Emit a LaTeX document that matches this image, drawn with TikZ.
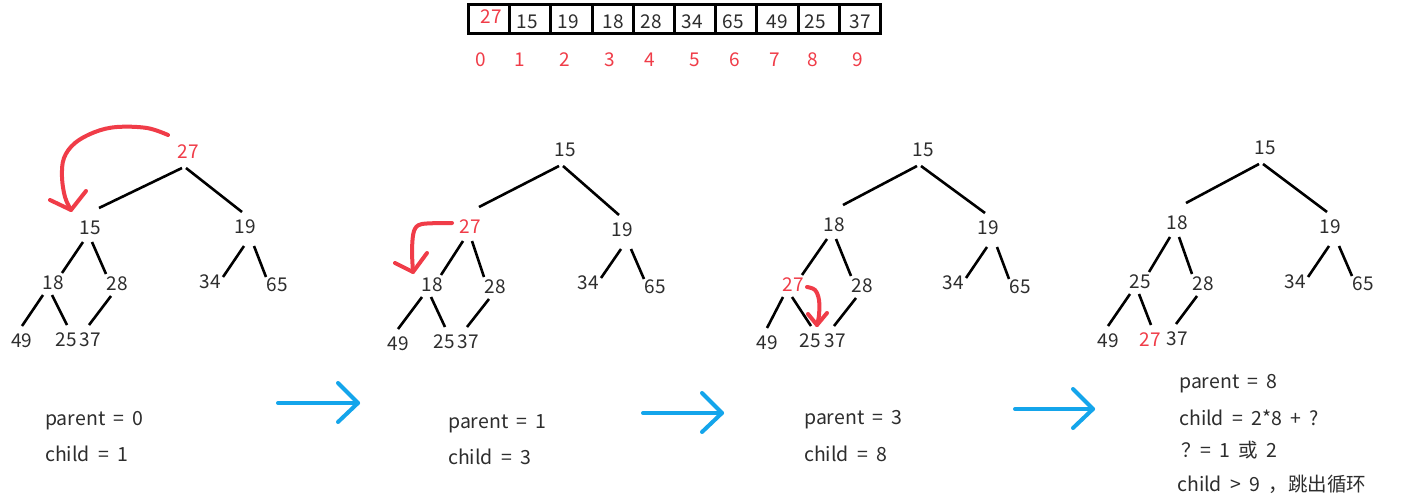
\documentclass[tikz,border=0pt]{standalone}
\usepackage{fontspec}
\setmainfont[WordSpace=1.9]{Noto Sans CJK SC}
\definecolor{txt}{RGB}{45,45,45}
\definecolor{hred}{RGB}{240,60,72}
\definecolor{hblue}{RGB}{20,165,235}
\tikzset{
  num/.style={inner sep=0pt, text=txt, font=\fontsize{19}{21}\selectfont},
  rnum/.style={num, text=hred},
  tedge/.style={draw=black, line width=2.6pt},
  cell/.style={draw=black, line width=3pt, minimum width=41.2pt, minimum height=29pt, inner sep=0pt},
  lbl/.style={inner sep=0pt, anchor=base west, text=txt, font=\fontsize{19.5}{22}\selectfont},
  redpen/.style={draw=hred, line width=4pt, line cap=round, line join=round},
  bluepen/.style={draw=hblue, line width=4pt, line cap=round, line join=round},
}
\newcommand\heapedges[1]{%
  \draw[tedge] ([shift={(-6,16)}]#1n0.center) -- ([shift={(9,-20)}]#1n1.center);
  \draw[tedge] ([shift={(-2,16)}]#1n0.center) -- ([shift={(-3,-15)}]#1n2.center);
  \draw[tedge] ([shift={(-7,14)}]#1n1.center) -- ([shift={(9,-10)}]#1n3.center);
  \draw[tedge] ([shift={(2,14)}]#1n1.center) -- ([shift={(-11,-10)}]#1n4.center);
  \draw[tedge] ([shift={(-1,19)}]#1n2.center) -- ([shift={(13,-5)}]#1n5.center);
  \draw[tedge] ([shift={(9,19)}]#1n2.center) -- ([shift={(-11,-8)}]#1n6.center);
  \draw[tedge] ([shift={(-10,12)}]#1n3.center) -- ([shift={(0,-15)}]#1n7.center);
  \draw[tedge] ([shift={(-1,12)}]#1n3.center) -- ([shift={(1,-15)}]#1n8.center);
  \draw[tedge] ([shift={(-6,12)}]#1n4.center) -- ([shift={(-1,-15)}]#1n9.center);
}
\begin{document}
\begin{tikzpicture}[x=1pt, y=-1pt]
\useasboundingbox (0,0) rectangle (1412,498);
\fill[white] (0,0) rectangle (1412,498);

% ---- array ----
\foreach \i in {0,...,9} {
  \node[cell] (c\i) at ({468.5+20.6+41.2*\i},19) {};
}
\node[rnum] (v0) at (491,17) {27};
\node[num] (v1) at (527,22) {15};
\node[num] (v2) at (568,22) {19};
\node[num] (v3) at (613,22) {18};
\node[num] (v4) at (651,22) {28};
\node[num] (v5) at (692,22) {34};
\node[num] (v6) at (733,22) {65};
\node[num] (v7) at (777,22) {49};
\node[num] (v8) at (815,22) {25};
\node[num] (v9) at (860,22) {37};
\node[rnum] (i0) at (481,60) {0};
\node[rnum] (i1) at (520,60) {1};
\node[rnum] (i2) at (565,60) {2};
\node[rnum] (i3) at (610,60) {3};
\node[rnum] (i4) at (650,60) {4};
\node[rnum] (i5) at (695,60) {5};
\node[rnum] (i6) at (735,60) {6};
\node[rnum] (i7) at (775,60) {7};
\node[rnum] (i8) at (813,60) {8};
\node[rnum] (i9) at (858,60) {9};

% ---- tree 1 ----
\node[rnum] (an0) at (188,152) {27};
\node[num] (an1) at (90,228) {15};
\node[num] (an2) at (245,227) {19};
\node[num] (an3) at (53,283) {18};
\node[num] (an4) at (117,284) {28};
\node[num] (an5) at (210,282) {34};
\node[num] (an6) at (277,285) {65};
\node[num] (an7) at (22,341) {49};
\node[num] (an8) at (66,340) {25};
\node[num] (an9) at (90,340) {37};
\heapedges{a}

% ---- tree 2 ----
\node[num] (bn0) at (565,150) {15};
\node[rnum] (bn1) at (470,227) {27};
\node[num] (bn2) at (622,230) {19};
\node[num] (bn3) at (432,285) {18};
\node[num] (bn4) at (495,287) {28};
\node[num] (bn5) at (588,283) {34};
\node[num] (bn6) at (655,287) {65};
\node[num] (bn7) at (398,344) {49};
\node[num] (bn8) at (444,342) {25};
\node[num] (bn9) at (468,342) {37};
\heapedges{b}

% ---- tree 3 ----
\node[num] (cn0) at (923,150) {15};
\node[num] (cn1) at (834,225) {18};
\node[num] (cn2) at (988,228) {19};
\node[rnum] (cn3) at (793,285) {27};
\node[num] (cn4) at (862,286) {28};
\node[num] (cn5) at (953,283) {34};
\node[num] (cn6) at (1020,287) {65};
\node[num] (cn7) at (767,343) {49};
\node[num] (cn8) at (810,341) {25};
\node[num] (cn9) at (835,341) {37};
\heapedges{c}

% ---- tree 4 ----
\node[num] (dn0) at (1265,148) {15};
\node[num] (dn1) at (1177,223) {18};
\node[num] (dn2) at (1330,227) {19};
\node[num] (dn3) at (1140,282) {25};
\node[num] (dn4) at (1203,284) {28};
\node[num] (dn5) at (1295,282) {34};
\node[num] (dn6) at (1363,284) {65};
\node[num] (dn7) at (1108,341) {49};
\node[rnum] (dn8) at (1150,340) {27};
\node[num] (dn9) at (1177,339) {37};
\heapedges{d}

% ---- red hand-drawn arrows ----
\draw[redpen] plot[smooth, tension=0.6] coordinates {(168,135) (147,128) (117,127) (95,132) (75,143) (64,158) (62,177) (65,197) (71,210)};
\draw[redpen] (50,200) -- (71,210) -- (86,191);
\draw[redpen] plot[smooth, tension=0.5] coordinates {(452,223) (422,224) (414,231) (412,250) (413,272)};
\draw[redpen] (395,263) -- (413,272) -- (427,253);
\draw[redpen] plot[smooth, tension=0.6] coordinates {(807,287) (815,290) (819,300) (819,315) (817,325)};
\draw[redpen] (808,314) -- (817,325) -- (827,313);

% ---- blue arrows ----
\coordinate (ba1s) at (278,403); \coordinate (ba1t) at (358,403);
\coordinate (ba2s) at (643,413); \coordinate (ba2t) at (722,413);
\coordinate (ba3s) at (1015,409); \coordinate (ba3t) at (1093,409);
\foreach \s/\t in {ba1s/ba1t, ba2s/ba2t, ba3s/ba3t} {
  \draw[bluepen] (\s) -- (\t);
  \draw[bluepen] ([shift={(-20,-20)}]\t) -- (\t) -- ([shift={(-20,19)}]\t);
}

% ---- captions ----
\node[lbl] (p1) at (45,425) {parent = 0};
\node[lbl] (q1) at (45,461) {child = 1};
\node[lbl] (p2) at (448,428) {parent = 1};
\node[lbl] (q2) at (448,464) {child = 3};
\node[lbl] (p3) at (804,424) {parent = 3};
\node[lbl] (q3) at (804,461) {child = 8};
\node[lbl] (p4) at (1179,388) {parent = 8};
\node[lbl] (q4) at (1179,425) {child = 2*8 + ?};
\node[lbl] (r4) at (1181,457) {？= 1 或 2};
\node[lbl] (s4) at (1177,491) {child > 9 ，跳出循环};
\end{tikzpicture}
\end{document}
